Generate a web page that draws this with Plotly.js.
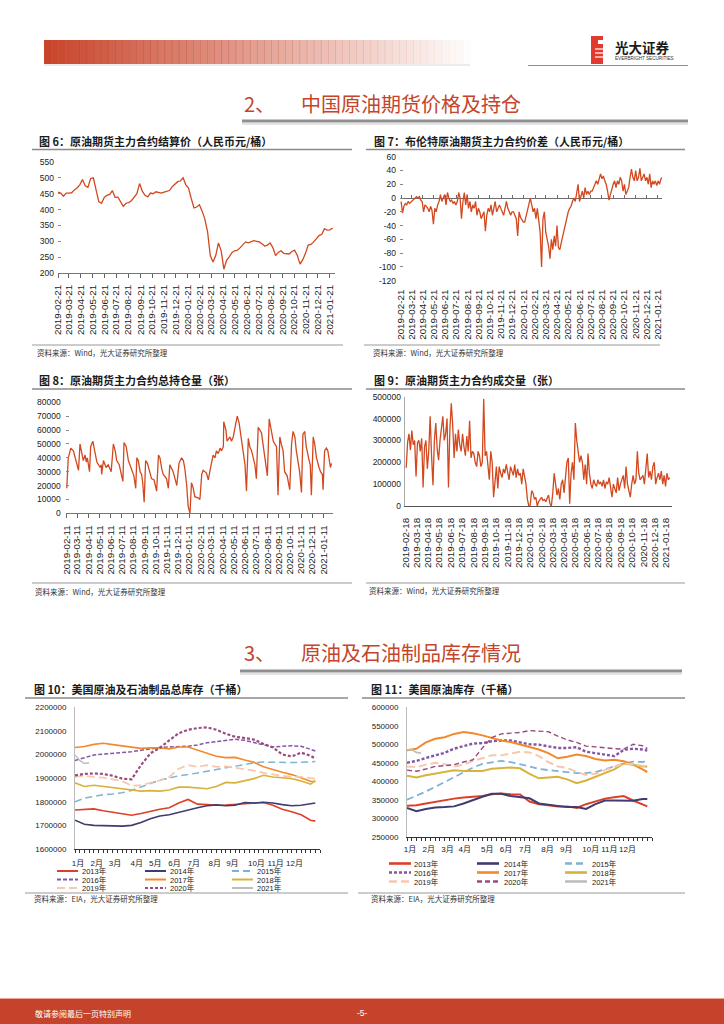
<!DOCTYPE html>
<html><head><meta charset="utf-8">
<script src="https://cdn.plot.ly/plotly-3.0.1.min.js"></script>
<style>html,body{margin:0;padding:0;background:#fff}#chart{width:724px;height:1024px}</style>
</head><body><div id="chart"></div>
<script>
// ---------------- DATA ----------------
// Chart 6: weekly settlement price (Thursdays from 2019-02-21), RMB/bbl
const price6 = [455,452, 442,452,452,453, 462,468,478,495, 475,470,498,500,462, 425,420,438,445,
  448,460,438,440, 425,410,420,422,428, 440,450,482,458, 445,440,452,450,456, 455,452,455,458, 460,472,480,488,
  490,500,478,468,435, 405,408,415,395, 370,330,255,235, 255,295,270,212,240, 252,265,270,272,
  280,290,298,295, 298,302,300,298,292, 285,288,295,280, 255,265,270,262, 262,260,268,272,255,
  228,242,262,288, 290,298,310,318,322, 340,335,336,342];
// Chart 7: Brent - SC spread, ~8 readings per month from 2019-02-21 to 2021-01-29
const spread7 = [-5,-22,-12,-8,-10,-5,-8,-6, -5,-3,0,2,0,2,-3,-5, -20,-10,-12,-15,-20,-12,-18,-38,
  -15,-20,-10,-5,5,-5,0,5, -10,8,0,-5,-3,-8,-5,-10, -5,8,0,-30,-5,8,-10,5,
  -15,-5,-20,-10,-15,-5,-25,-15, -20,-30,-25,-20,-48,-25,-15,-20, -10,-25,-15,-5,-20,-15,-10,-15,
  -20,-25,-15,-5,-15,-20,-25,-20, -20,-25,-30,-55,-20,-28,-32,-35, -35,-25,-15,-5,0,-10,-20,-15,
  -30,-15,-30,-50,-100,-30,-20,-50, -60,-70,-88,-60,-75,-55,-70,-40, -72,-75,-65,-55,-45,-35,-30,-20,
  -15,-12,-5,0,-5,10,20,-5, 5,10,0,15,5,10,5,10, 10,15,20,25,20,30,35,28,
  32,25,20,10,-3,5,15,20, 25,15,25,20,30,25,10,20, 5,10,15,30,42,30,25,40,
  25,30,43,25,30,35,25,30, 20,35,15,25,20,25,18,25, 20,28,30];
// Chart 8: open interest, day offsets from 2019-02-11 and values (contracts)
const days8 = [0,4,11,18,25,32,36,45,50,53,56,62,65,71,76,82,91,94,95,100,107,113,121,127,132,136,143,148,153,
  156,162,168,172,177,183,188,191,195,200,204,207,211,215,220,227,231,238,245,250,254,259,263,272,277,
  281,286,290,295,300,306,313,318,322,327,331,336,340,345,349,359,363,368,372,381,386,390,395,399,404,
  408,413,418,422,427,428,434,437,445,449,454,461,465,470,476,481,486,490,495,499,504,513,517,522,526,
  531,535,542,545,547,552,558,563,567,572,576,581,585,590,594,601,608,613,617,622,626,631,635,640,644,
  649,653,661,664,667,672,676,681,688,692,697,699,703,708,712,717,719,722];
const openInt8 = [18e3,40e3,47e3,45e3,38e3,31e3,50e3,38e3,42e3,37e3,40e3,30e3,48e3,52e3,45e3,37e3,33e3,35e3,28e3,
  38e3,33e3,35e3,30e3,50e3,45e3,38e3,35e3,30e3,23e3,51e3,48e3,38e3,35e3,30e3,27e3,18e3,40e3,38e3,30e3,
  28e3,22e3,8e3,38e3,36e3,30e3,25e3,24e3,16e3,42e3,40e3,32e3,28e3,25e3,18e3,35e3,32e3,30e3,25e3,20e3,
  36e3,40e3,38e3,32e3,20e3,5e3,0,22e3,18e3,12e3,11e3,10e3,28e3,31e3,29e3,24e3,30e3,38e3,42e3,40e3,
  45e3,43e3,47e3,45e3,48e3,66e3,60e3,52e3,55e3,52e3,55e3,65e3,70e3,65e3,55e3,45e3,35e3,16e3,54e3,
  48e3,45e3,35e3,25e3,62e3,60e3,58e3,50e3,38e3,30e3,27e3,68e3,60e3,52e3,50e3,48e3,13e3,55e3,50e3,
  45e3,30e3,27e3,17e3,50e3,59e3,55e3,45e3,38e3,30e3,15e3,57e3,59e3,48e3,38e3,35e3,13e3,55e3,50e3,
  40e3,33e3,30e3,28e3,17e3,45e3,47e3,45e3,38e3,33e3,36e3];
// Chart 9: traded volume, ~8 readings per month from 2019-02-18 to 2021-01-28
const volume9 = [175e3,290e3,330e3,255e3,345e3,280e3,300e3,135e3, 290e3,300e3,250e3,310e3,85e3,270e3,300e3,170e3,
  250e3,410e3,230e3,95e3,300e3,380e3,260e3,210e3, 300e3,350e3,410e3,300e3,330e3,400e3,85e3,350e3,
  470e3,370e3,220e3,330e3,250e3,350e3,280e3,250e3, 330e3,270e3,230e3,320e3,250e3,390e3,220e3,250e3,
  240e3,200e3,180e3,250e3,230e3,180e3,200e3,490e3, 230e3,250e3,180e3,120e3,250e3,200e3,40e3,120e3,
  180e3,80e3,180e3,150e3,130e3,170e3,150e3,190e3, 150e3,120e3,180e3,160e3,140e3,190e3,130e3,170e3,
  140e3,150e3,100e3,170e3,140e3,100e3,30e3,0, 5e3,70e3,60e3,30e3,40e3,0,20e3,30e3,
  40e3,25e3,30e3,20e3,40e3,50e3,10e3,0, 60e3,150e3,100e3,50e3,80e3,30e3,100e3,120e3,
  60e3,150e3,200e3,220e3,10e3,150e3,200e3,120e3, 380e3,300e3,260e3,200e3,230e3,200e3,120e3,190e3,
  100e3,240e3,150e3,100e3,80e3,120e3,100e3,90e3, 120e3,100e3,110e3,90e3,120e3,80e3,110e3,100e3,
  130e3,90e3,40e3,100e3,80e3,60e3,130e3,70e3, 100e3,120e3,140e3,80e3,180e3,100e3,60e3,40e3,
  100e3,140e3,100e3,120e3,250e3,150e3,120e3,130e3, 140e3,100e3,160e3,240e3,130e3,160e3,120e3,180e3,
  200e3,100e3,130e3,150e3,120e3,160e3,100e3,140e3, 90e3,150e3,120e3,130e3];
// tick labels
const ticks21 = ['2019-02-21','2019-03-21','2019-04-21','2019-05-21','2019-06-21','2019-07-21','2019-08-21','2019-09-21','2019-10-21','2019-11-21','2019-12-21','2020-01-21','2020-02-21','2020-03-21','2020-04-21','2020-05-21','2020-06-21','2020-07-21','2020-08-21','2020-09-21','2020-10-21','2020-11-21','2020-12-21','2021-01-21'];
const ticks11 = ['2019-02-11','2019-03-11','2019-04-11','2019-05-11','2019-06-11','2019-07-11','2019-08-11','2019-09-11','2019-10-11','2019-11-11','2019-12-11','2020-01-11','2020-02-11','2020-03-11','2020-04-11','2020-05-11','2020-06-11','2020-07-11','2020-08-11','2020-09-11','2020-10-11','2020-11-11','2020-12-11','2021-01-11'];
const ticks18 = ['2019-02-18','2019-03-18','2019-04-18','2019-05-18','2019-06-18','2019-07-18','2019-08-18','2019-09-18','2019-10-18','2019-11-18','2019-12-18','2020-01-18','2020-02-18','2020-03-18','2020-04-18','2020-05-18','2020-06-18','2020-07-18','2020-08-18','2020-09-18','2020-10-18','2020-11-18','2020-12-18','2021-01-18'];
const spreadTickVals = [-120,-100,-80,-60,-40,-20,0,20,40,60];
const spreadTickText = ['-120','-100','-80','-60','-40','-20','0','20','40','60'];
const months = ['1月','2月','3月','4月','5月','6月','7月','8月','9月','10月','11月','12月'];
const monthPos10 = [0.64,4.6,8.5,13.1,17.05,21.1,25.2,29.65,33.4,38.5,42.6,46.6];
const monthPos11 = [0.64,4.6,8.6,12.25,17.05,21,25.1,29.8,33.8,39,42.96,46.8];
// Charts 10/11: weekly inventories (sampled every two weeks), thousand barrels
const years = ['2013年','2014年','2015年','2016年','2017年','2018年','2019年','2020年','2021年'];
const weeks = [0,2,4,6,8,10,12,14,16,18,20,22,24,26,28,30,32,34,36,38,40,42,44,46,48,50,51];
const weeks2021 = [0,1,2,3];
const total2013 = [1765e3,1768e3,1770e3,1762e3,1755e3,1748e3,1743e3,1750e3,1760e3,1768e3,1775e3,1795e3,1810e3,1790e3,1788e3,1785e3,1786e3,1788e3,1790e3,1793e3,1797e3,1785e3,1768e3,1758e3,1745e3,1722e3,1718e3];
const total2014 = [1722e3,1705e3,1700e3,1698e3,1697e3,1697e3,1700e3,1712e3,1728e3,1740e3,1745e3,1755e3,1768e3,1775e3,1783e3,1787e3,1783e3,1785e3,1797e3,1795e3,1798e3,1795e3,1788e3,1783e3,1785e3,1792e3,1795e3];
const total2015 = [1800e3,1815e3,1822e3,1830e3,1833e3,1838e3,1848e3,1862e3,1878e3,1892e3,1900e3,1910e3,1915e3,1922e3,1930e3,1938e3,1945e3,1950e3,1960e3,1965e3,1968e3,1967e3,1965e3,1966e3,1967e3,1968e3,1970e3];
const total2016 = [1975e3,1988e3,1998e3,2002e3,2005e3,2010e3,2012e3,2018e3,2025e3,2030e3,2032e3,2032e3,2035e3,2040e3,2050e3,2055e3,2060e3,2065e3,2060e3,2050e3,2040e3,2032e3,2035e3,2037e3,2035e3,2020e3,2015e3];
const total2017 = [2030e3,2034e3,2043e3,2048e3,2042e3,2036e3,2029e3,2026e3,2028e3,2028e3,2024e3,2032e3,2032e3,2020e3,2005e3,1993e3,1987e3,1988e3,1977e3,1967e3,1948e3,1935e3,1925e3,1915e3,1900e3,1887e3,1885e3];
const total2018 = [1880e3,1865e3,1870e3,1865e3,1862e3,1855e3,1850e3,1845e3,1847e3,1845e3,1850e3,1862e3,1862e3,1858e3,1855e3,1865e3,1882e3,1880e3,1890e3,1898e3,1912e3,1905e3,1902e3,1898e3,1888e3,1875e3,1890e3];
const total2019 = [1905e3,1910e3,1905e3,1902e3,1895e3,1888e3,1868e3,1870e3,1880e3,1890e3,1905e3,1940e3,1955e3,1948e3,1955e3,1948e3,1950e3,1945e3,1940e3,1932e3,1922e3,1915e3,1910e3,1905e3,1905e3,1900e3,1898e3];
const total2020 = [1912e3,1918e3,1920e3,1918e3,1910e3,1898e3,1895e3,1955e3,2005e3,2028e3,2060e3,2090e3,2105e3,2112e3,2115e3,2105e3,2088e3,2075e3,2070e3,2063e3,2045e3,2030e3,2000e3,1992e3,2008e3,1995e3,1983e3];
const total2021 = [1998e3,1975e3,1962e3,1965e3];
const crude2013 = [334e3,335e3,340e3,345e3,348e3,353e3,356e3,358e3,360e3,365e3,367e3,365e3,364e3,345e3,338e3,335e3,332e3,332e3,328e3,338e3,346e3,353e3,357e3,360e3,348e3,336e3,332e3];
const crude2014 = [328e3,319e3,325e3,329e3,330e3,332e3,340e3,350e3,358e3,366e3,366e3,360e3,356e3,354e3,340e3,336e3,333e3,330e3,330e3,325e3,338e3,348e3,348e3,348e3,347e3,352e3,352e3];
const crude2015 = [350e3,360e3,372e3,385e3,398e3,412e3,425e3,437e3,447e3,452e3,455e3,452e3,447e3,440e3,433e3,430e3,428e3,425e3,422e3,422e3,425e3,432e3,440e3,448e3,453e3,452e3,455e3];
const crude2016 = [450e3,455e3,463e3,470e3,477e3,488e3,495e3,502e3,503e3,508e3,510e3,510e3,505e3,500e3,499e3,495e3,490e3,490e3,492e3,480e3,476e3,472e3,468e3,485e3,488e3,486e3,483e3];
const crude2017 = [484e3,488e3,505e3,515e3,519e3,528e3,533e3,530e3,524e3,517e3,510e3,506e3,500e3,493e3,486e3,476e3,462e3,466e3,472e3,468e3,460e3,456e3,458e3,454e3,445e3,432e3,425e3];
const crude2018 = [415e3,410e3,416e3,420e3,424e3,430e3,428e3,428e3,428e3,434e3,435e3,437e3,435e3,420e3,408e3,410e3,412e3,405e3,395e3,402e3,412e3,422e3,432e3,448e3,443e3,440e3,440e3];
const crude2019 = [440e3,438e3,445e3,450e3,446e3,440e3,445e3,455e3,462e3,470e3,470e3,476e3,480e3,478e3,468e3,452e3,440e3,436e3,425e3,417e3,420e3,430e3,440e3,448e3,446e3,442e3,440e3];
const crude2020 = [430e3,427e3,433e3,440e3,442e3,445e3,452e3,458e3,490e3,518e3,528e3,530e3,532e3,537e3,536e3,534e3,522e3,512e3,505e3,495e3,493e3,490e3,488e3,487e3,500e3,496e3,488e3];
const crude2021 = [485e3,486e3,478e3,476e3];

// ---------------- STYLE / LAYOUT ----------------
const W = 724, H = 1024;
const X = p => p / W, Y = p => 1 - p / H;
const FN = 'Liberation Sans, Arial, Noto Sans CJK SC, sans-serif';
const CJK = 'Noto Sans CJK SC, sans-serif';
const RED = '#D2481F';
const BRAND = '#C4452B';
const yearColors = ['#DE3F26','#3E3C70','#7DB3D6','#8456A3','#F4892B','#D8B33C','#F7C8AE','#9A4B7E','#BDBDBD'];
const dash10 = ['solid','solid','7px,4px','4px,2px','solid','solid','8px,4px','3px,2px','solid'];
const width10 = [1.6,1.6,1.5,1.5,1.6,1.6,1.8,2.2,1.4];
const dash11 = ['solid','solid','7px,4px','3px,2px','solid','solid','8px,4px','5px,3px','solid'];
const width11 = [2,2,1.8,2.4,2,2,2,1.4,1.6];

function addDays(start, d) {
  const t = Date.parse(start + 'T00:00:00Z') + d * 86400000;
  return new Date(t).toISOString().slice(0, 16).replace('T', ' ');
}
const dates6 = price6.map((_, i) => addDays('2019-02-21', 7 * i));
const dates7 = spread7.map((_, i) => addDays('2019-02-21', i * 712 / (spread7.length - 1)));
const dates8 = days8.map(d => addDays('2019-02-11', d));
const dates9 = volume9.map((_, i) => addDays('2019-02-18', i * 710 / (volume9.length - 1)));

const traces = [];
const lineTrace = (x, y, xa, ya, color, width, dash) => ({
  type: 'scatter', mode: 'lines', x, y, xaxis: xa, yaxis: ya,
  line: { color, width, dash: dash || 'solid' }, hoverinfo: 'skip', showlegend: false
});
traces.push(lineTrace(dates6, price6, 'x', 'y', RED, 1.3));
traces.push(lineTrace(dates7, spread7, 'x2', 'y2', RED, 1.3));
traces.push(lineTrace(dates8, openInt8, 'x3', 'y3', RED, 1.3));
traces.push(lineTrace(dates9, volume9, 'x4', 'y4', RED, 1.3));
// dummy for overlay tick axis on chart 7 zero line
traces.push({ type: 'scatter', mode: 'markers', x: [dates7[0]], y: [0], xaxis: 'x7', yaxis: 'y2',
  marker: { opacity: 0, size: 1 }, hoverinfo: 'skip', showlegend: false });

const total = [total2013,total2014,total2015,total2016,total2017,total2018,total2019,total2020,total2021];
const crude = [crude2013,crude2014,crude2015,crude2016,crude2017,crude2018,crude2019,crude2020,crude2021];
for (let i = 0; i < 9; i++) {
  const wx = i === 8 ? weeks2021 : weeks;
  traces.push(lineTrace(wx, total[i], 'x5', 'y5', yearColors[i], width10[i], dash10[i]));
}
for (let i = 0; i < 9; i++) {
  const wx = i === 8 ? weeks2021 : weeks;
  traces.push(lineTrace(wx, crude[i], 'x6', 'y6', yearColors[i], width11[i], dash11[i]));
}

const shapes = [], annotations = [];
function hline(x0, x1, y, color, w, dash) {
  shapes.push({ type: 'line', xref: 'paper', yref: 'paper', x0: X(x0), x1: X(x1), y0: Y(y), y1: Y(y),
    line: { color, width: w, dash: dash || 'solid' } });
}
function rect(x0, x1, y0, y1, fill, op) {
  shapes.push({ type: 'rect', xref: 'paper', yref: 'paper', x0: X(x0), x1: X(x1), y0: Y(y1), y1: Y(y0),
    fillcolor: fill, opacity: op == null ? 1 : op, line: { width: 0 } });
}
function txt(t, x, y, size, color, opts) {
  opts = opts || {};
  annotations.push({ text: t, x: X(x), y: Y(y), xref: 'paper', yref: 'paper', showarrow: false,
    xanchor: opts.xanchor || 'left', yanchor: 'middle',
    font: { family: opts.family || CJK, size, color, weight: opts.weight || 'normal' } });
}

// header gradient bar
const N = 60;
for (let i = 0; i < N; i++) {
  const x0 = 44 + (470 - 44) * i / N, x1 = 44 + (470 - 44) * (i + 1) / N + 0.5;
  rect(x0, x1, 40, 64, '#C8452B', 1 - i / N);
}
hline(44, 470, 65, '#D8D8D8', 1);
// logo
rect(591, 603, 36, 64, '#E13A2E');
hline(595, 603, 49, '#ffffff', 1.2);
hline(595, 603, 53, '#ffffff', 1.2);
hline(595, 603, 57, '#ffffff', 1.2);
rect(598, 603, 40, 44, '#ffffff');
txt('光大证券', 613, 47, 13.5, '#1a1a1a', { weight: 'bold' });
txt('EVERBRIGHT SECURITIES', 613, 58.5, 4.6, '#333', { family: FN });
hline(528, 688, 65.5, '#8E8E8E', 1.2);

// section headings
txt('2、', 242, 103, 20, BRAND);
txt('中国原油期货价格及持仓', 299, 103, 20, BRAND);
hline(242, 688, 121, '#8F8F8F', 3);
hline(242, 688, 124, '#C9C9C9', 1.2);
txt('3、', 242, 652, 20, BRAND);
txt('原油及石油制品库存情况', 299, 652, 20, BRAND);
hline(240, 682, 671, '#8F8F8F', 3);
hline(240, 682, 674, '#C9C9C9', 1.2);

// chart titles + separators
const tStyle = { weight: 'bold' };
txt('图 6：原油期货主力合约结算价（人民币元/桶）', 37, 141, 11, '#1a1a1a', tStyle);
txt('图 7：布伦特原油期货主力合约价差（人民币元/桶）', 372, 141, 11, '#1a1a1a', tStyle);
txt('图 8：原油期货主力合约总持仓量（张）', 37, 380, 11, '#1a1a1a', tStyle);
txt('图 9：原油期货主力合约成交量（张）', 372, 380, 11, '#1a1a1a', tStyle);
txt('图 10：美国原油及石油制品总库存（千桶）', 32, 689, 11, '#1a1a1a', tStyle);
txt('图 11：美国原油库存（千桶）', 369, 689, 11, '#1a1a1a', tStyle);
hline(32, 352, 149.5, '#8A8A8A', 1.5);
hline(366, 685, 149.5, '#8A8A8A', 1.5);
hline(32, 352, 389, '#8A8A8A', 1.5);
hline(366, 685, 389, '#8A8A8A', 1.5);
hline(25, 348, 698, '#8A8A8A', 1.5);
hline(362, 685, 698, '#8A8A8A', 1.5);

// sources
const src1 = '资料来源：Wind，光大证券研究所整理';
const src2 = '资料来源：EIA，光大证券研究所整理';
hline(32, 343, 345, '#9A9A9A', 1.2);
hline(364, 660, 345, '#9A9A9A', 1.2);
txt(src1, 35, 352, 7.5, '#333');
txt(src1, 371, 352, 7.5, '#333');
hline(32, 352, 583, '#9A9A9A', 1.2);
hline(366, 685, 583, '#9A9A9A', 1.2);
txt(src1, 33, 591.5, 7.5, '#333');
txt(src1, 367, 590.5, 7.5, '#333');
hline(25, 348, 893, '#9A9A9A', 1.2);
hline(358, 685, 893, '#9A9A9A', 1.2);
txt(src2, 32, 898.5, 7.5, '#333');
txt(src2, 369, 898.5, 7.5, '#333');

// manual legends for charts 10 and 11
function legend(sampleX, textX, rowY, len, lw) {
  for (let i = 0; i < years.length; i++) {
    const c = i % 3, r = Math.floor(i / 3);
    const y = rowY[r];
    const dash = lw > 2 ? dash11[i] : dash10[i];
    hline(sampleX[c], sampleX[c] + len, y, yearColors[i], lw, dash);
    txt(years[i], textX[c], y, 7.5, '#222', { family: FN });
  }
}
legend([57, 145, 232], [80, 168, 255], [871, 879.5, 888], 21, 2);
legend([389, 477, 565], [412, 502, 590], [863.5, 872.5, 881.5], 22, 2.6);

// footer
rect(0, 724, 999, 1024, '#C5432A');
hline(0, 724, 998.5, '#E6A595', 1);
txt('敬请参阅最后一页特别声明', 33, 1013, 8, '#ffffff');
txt('-5-', 362, 1013, 8.5, '#ffffff', { xanchor: 'center', family: FN });

// axes
const base = { showgrid: false, zeroline: false, fixedrange: true, automargin: false };
const tf = { family: FN, size: 8.5, color: '#222' };
const dateX = (dom, anchor, range, tv, extra) => Object.assign({}, base, {
  domain: dom, anchor, type: 'date', range, tickmode: 'array', tickvals: tv, ticktext: tv,
  tickangle: -90, tickfont: { family: FN, size: 9.8, color: '#222' }
}, extra);

const layout = {
  width: W, height: H, margin: { l: 0, r: 0, t: 0, b: 0 },
  paper_bgcolor: '#ffffff', plot_bgcolor: '#ffffff', showlegend: false,
  font: { family: FN, size: 8.5, color: '#222' },
  xaxis: dateX([X(58), X(335)], 'y', ['2019-02-21', '2021-02-03'], ticks21,
    { ticks: 'outside', ticklen: 4, tickcolor: '#666', showline: true, linecolor: '#777', linewidth: 1, ticklabelstandoff: 3 }),
  yaxis: Object.assign({}, base, { domain: [Y(273), Y(162)], anchor: 'x', range: [200, 550], tickmode: 'linear',
    tick0: 200, dtick: 50, ticks: 'inside', ticklen: 3, tickcolor: '#888', tickfont: tf, ticklabelstandoff: 3 }),
  xaxis2: dateX([X(400), X(662)], 'y2', ['2019-02-18', '2021-02-01'], ticks21,
    { ticks: '', showline: false, ticklabelstandoff: 6 }),
  yaxis2: Object.assign({}, base, { domain: [Y(280.7), Y(156.7)], anchor: 'x2', range: [-120, 60],
    tickmode: 'array', tickvals: spreadTickVals, ticktext: spreadTickText, ticks: 'inside', ticklen: 3,
    tickcolor: '#888', tickfont: tf, ticklabelstandoff: 3, zeroline: true, zerolinecolor: '#6E6E6E', zerolinewidth: 1 }),
  xaxis7: Object.assign({}, base, { overlaying: 'x2', anchor: 'free', position: Y(198.03), type: 'date',
    range: ['2019-02-18', '2021-02-01'], tickmode: 'array', tickvals: ticks21, showticklabels: false,
    ticks: 'inside', ticklen: 3, tickcolor: '#6E6E6E', showline: false }),
  xaxis3: dateX([X(65.7), X(333)], 'y3', ['2019-02-08', '2021-02-06'], ticks11,
    { ticks: 'outside', ticklen: 4, tickcolor: '#666', showline: true, linecolor: '#777', linewidth: 1, ticklabelstandoff: 3 }),
  yaxis3: Object.assign({}, base, { domain: [Y(513.3), Y(402.3)], anchor: 'x3', range: [0, 80000], tickmode: 'linear',
    tick0: 0, dtick: 10000, tickformat: 'd', ticks: 'inside', ticklen: 3, tickcolor: '#888', tickfont: tf, ticklabelstandoff: 4 }),
  xaxis4: dateX([X(404.7), X(672)], 'y4', ['2019-02-14', '2021-02-03'], ticks18,
    { ticks: '', showline: true, linecolor: '#555', linewidth: 1, ticklabelstandoff: 7 }),
  yaxis4: Object.assign({}, base, { domain: [Y(506), Y(396.7)], anchor: 'x4', range: [0, 500000], tickmode: 'linear',
    tick0: 0, dtick: 100000, tickformat: 'd', ticks: '', showline: true, linecolor: '#AAAAAA', tickfont: tf, ticklabelstandoff: 1 }),
  xaxis5: Object.assign({}, base, { domain: [X(75), X(320)], anchor: 'y5', range: [0, 52], tickmode: 'array',
    tickvals: monthPos10, ticktext: months, ticks: '', showline: true, linecolor: '#333', linewidth: 1, tickangle: 0,
    tickfont: { family: FN, size: 8, color: '#222' }, ticklabelstandoff: 6,
    minor: { tickmode: 'linear', tick0: 0, dtick: 1, ticks: 'outside', ticklen: 3, tickcolor: '#333', tickwidth: 1, showgrid: false } }),
  yaxis5: Object.assign({}, base, { domain: [Y(849), Y(707.3)], anchor: 'x5', range: [1600000, 2200000], tickmode: 'linear',
    tick0: 1600000, dtick: 100000, tickformat: 'd', ticks: '', showline: true, linecolor: '#BBBBBB',
    tickfont: { family: FN, size: 8, color: '#222' }, ticklabelstandoff: 6 }),
  xaxis6: Object.assign({}, base, { domain: [X(407), X(652)], anchor: 'y6', range: [0, 52], tickmode: 'array',
    tickvals: monthPos11, ticktext: months, ticks: '', showline: true, linecolor: '#333', linewidth: 1, tickangle: 0,
    tickfont: { family: FN, size: 8, color: '#222' }, ticklabelstandoff: 5,
    minor: { tickmode: 'linear', tick0: 0, dtick: 1, ticks: 'outside', ticklen: 3, tickcolor: '#333', tickwidth: 1, showgrid: false } }),
  yaxis6: Object.assign({}, base, { domain: [Y(836.7), Y(707.3)], anchor: 'x6', range: [250000, 600000], tickmode: 'linear',
    tick0: 250000, dtick: 50000, tickformat: 'd', ticks: '', showline: true, linecolor: '#BBBBBB',
    tickfont: { family: FN, size: 8, color: '#222' }, ticklabelstandoff: 6 }),
  shapes, annotations
};

Plotly.newPlot('chart', traces, layout, { staticPlot: true, displayModeBar: false });
</script></body></html>
